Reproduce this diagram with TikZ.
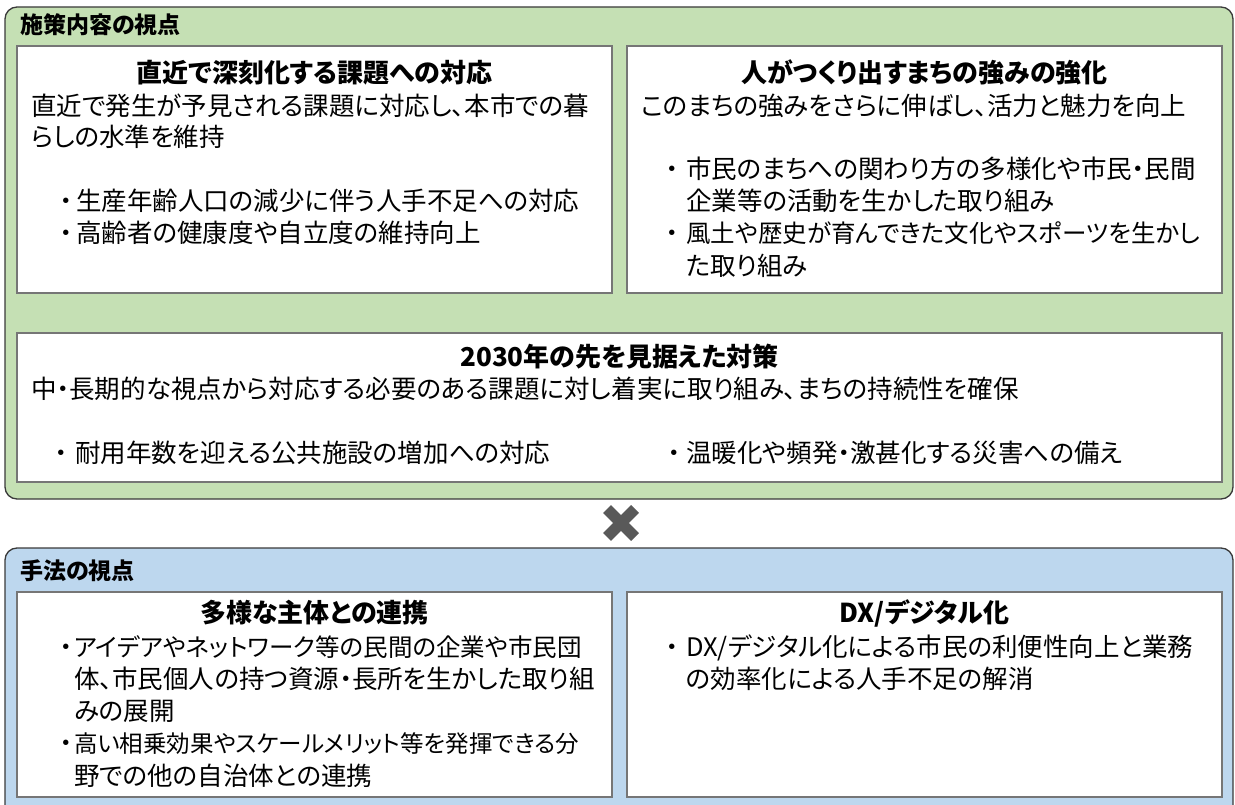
\documentclass[tikz,border=0pt]{standalone}
\usepackage{fontspec}
\setmainfont{Noto Sans CJK JP}[RawFeature={+palt}]
\definecolor{gfill}{HTML}{C5E0B4}
\definecolor{bfill}{HTML}{BDD7EE}
\definecolor{bordr}{HTML}{3A3A3A}
\definecolor{inbrd}{HTML}{767676}
\definecolor{xmark}{HTML}{595959}
\begin{document}
\begin{tikzpicture}[x=1pt,y=-1pt,
  outerbox/.style={draw=bordr,line width=1.3pt,rounded corners=12pt},
  innerbox/.style={draw=inbrd,fill=white,line width=2.2pt},
  hdr/.style={anchor=west,inner sep=0pt,text height=19.5pt,text depth=2.5pt,font=\bfseries\fontsize{23}{27}\selectfont},
  ttl/.style={anchor=center,inner sep=0pt,text height=21.5pt,text depth=3pt,font=\bfseries\fontsize{26}{30}\selectfont},
  body/.style={anchor=west,inner sep=0pt,text height=21.5pt,text depth=3pt,font=\fontsize{25.5}{29}\selectfont},
  bdot/.style={anchor=center,inner sep=0pt,text height=21.5pt,text depth=3pt,font=\fontsize{25.5}{29}\selectfont},
  xline/.style={draw=xmark,line width=11pt},
]
\useasboundingbox (0,0) rectangle (1235,805);
\begin{scope}
\clip (0,0) rectangle (1235,805);
\path[outerbox,fill=gfill] (5,7) rectangle (1233,499);
\path[outerbox,fill=bfill] (5,548) rectangle (1233,840);
\end{scope}
% inner boxes
\path[innerbox] (17,46) rectangle (612,293);
\path[innerbox] (627,46) rectangle (1222,293);
\path[innerbox] (17,333) rectangle (1222,482);
\path[innerbox] (17,592) rectangle (612,797);
\path[innerbox] (627,592) rectangle (1222,797);
% headers
\node[hdr] (h1) at (20,25) {施策内容の視点};
\node[hdr] (h2) at (20,571) {手法の視点};
% box 1
\node[ttl] (t1) at (314.5,73) {直近で深刻化する課題への対応};
\node[body] (a1) at (31,106) {直近で発生が予見される課題に対応し、本市での暮};
\node[body] (a2) at (31,137) {らしの水準を維持};
\node[bdot] (a3d) at (66,201) {・};
\node[body] (a3) at (76,201) {生産年齢人口の減少に伴う人手不足への対応};
\node[bdot] (a4d) at (66,233) {・};
\node[body] (a4) at (76,233) {高齢者の健康度や自立度の維持向上};
% box 2
\node[ttl] (t2) at (924.5,73) {人がつくり出すまちの強みの強化};
\node[body] (b1) at (641,106) {このまちの強みをさらに伸ばし、活力と魅力を向上};
\node[bdot] (b2d) at (672,169) {・};
\node[body] (b2) at (686,169) {市民のまちへの関わり方の多様化や市民・民間};
\node[body] (b3) at (686,201) {企業等の活動を生かした取り組み};
\node[bdot] (b4d) at (672,233) {・};
\node[body,font=\fontsize{24.5}{29}\selectfont] (b4) at (686,233) {風土や歴史が育んできた文化やスポーツを生かし};
\node[body] (b5) at (686,266) {た取り組み};
% box 3
\node[ttl] (t3) at (619.5,357) {2030年の先を見据えた対策};
\node[body] (c1) at (31,389) {中・長期的な視点から対応する必要のある課題に対し着実に取り組み、まちの持続性を確保};
\node[bdot] (c2d) at (61,453) {・};
\node[body] (c2) at (75,453) {耐用年数を迎える公共施設の増加への対応};
\node[bdot] (c3d) at (674,453) {・};
\node[body] (c3) at (686,453) {温暖化や頻発・激甚化する災害への備え};
% cross mark
\coordinate (xc) at (621,523);
\draw[xline] ([shift={(-14,-14)}]xc) -- ([shift={(14,14)}]xc);
\draw[xline] ([shift={(-14,14)}]xc) -- ([shift={(14,-14)}]xc);
% box 4
\node[ttl] (t4) at (314.5,613) {多様な主体との連携};
\node[bdot] (d1d) at (66,647) {・};
\node[body,font=\fontsize{24.5}{29}\selectfont] (d1) at (74,647) {アイデアやネットワーク等の民間の企業や市民団};
\node[body] (d2) at (74,679) {体、市民個人の持つ資源・長所を生かした取り組};
\node[body] (d3) at (74,711) {みの展開};
\node[bdot] (d4d) at (66,743) {・};
\node[body,font=\fontsize{23.5}{29}\selectfont] (d4) at (74,743) {高い相乗効果やスケールメリット等を発揮できる分};
\node[body] (d5) at (74,776) {野での他の自治体との連携};
% box 5
\node[ttl] (t5) at (924.5,613) {DX/デジタル化};
\node[bdot] (e1d) at (672,647) {・};
\node[body] (e1) at (686,647) {DX/デジタル化による市民の利便性向上と業務};
\node[body] (e2) at (686,679) {の効率化による人手不足の解消};
\end{tikzpicture}
\end{document}
